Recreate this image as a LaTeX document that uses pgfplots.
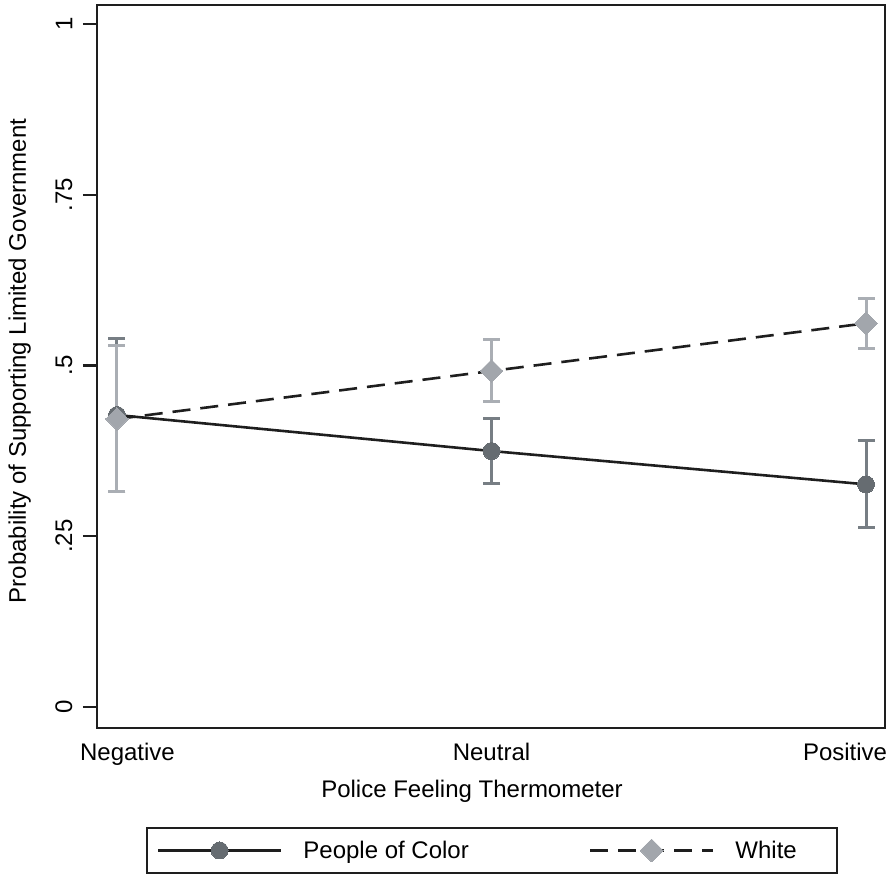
\documentclass[border=0pt]{standalone}
\usepackage{pgfplots}
\pgfplotsset{compat=1.18}
\usepackage{fontspec}
\setmainfont{Liberation Sans}
\definecolor{pocfill}{HTML}{666C71}
\definecolor{pocbar}{HTML}{777E84}
\definecolor{whfill}{HTML}{A2A6AC}
\definecolor{whbar}{HTML}{AAAEB4}
\definecolor{ink}{HTML}{1E1E1E}

% x = thermometer category (1 negative, 2 neutral, 3 positive)
\pgfplotstableread{
x est eplus eminus
1 0.4275 0.1115 0.1115
2 0.3748 0.0472 0.0473
3 0.3260 0.0640 0.0629
}\poc
\pgfplotstableread{
x est eplus eminus
1 0.4217 0.1073 0.1067
2 0.4920 0.0460 0.0454
3 0.5618 0.0356 0.0368
}\white

\begin{document}
\begin{tikzpicture}
\useasboundingbox (0pt,0pt) rectangle (894pt,875pt);
\begin{axis}[
  at={(97pt,147pt)}, anchor=south west,
  scale only axis, width=788pt, height=723pt,
  xmin=0.9466, xmax=3.0507, ymin=-0.0307, ymax=1.0278,
  axis line style={ink, line width=2.4pt},
  font=\fontsize{24}{28}\selectfont,
  xtick={1.028,2,2.944}, xticklabels={Negative,Neutral,Positive},
  x tick style={draw=none},
  ytick={0,0.25,0.5,0.75,1}, yticklabels={0,.25,.5,.75,1},
  ytick pos=left,
  y tick style={ink, line width=2.4pt},
  tick align=outside, major tick length=14pt,
  yticklabel style={rotate=90, anchor=south},
  yticklabel shift=7pt,
  xticklabel style={anchor=base, yshift=-18pt},
  xlabel={Police Feeling Thermometer},
  xlabel style={at={(axis description cs:0.4759,-0.0968)}, anchor=base},
  ylabel={Probability of Supporting Limited Government},
  ylabel style={at={(axis description cs:-0.0901,0.5076)}, anchor=base},
  legend style={at={(0.501,-0.1694)}, anchor=center, draw=ink, line width=1.5pt,
    font=\fontsize{24}{28}\selectfont, inner xsep=10pt, inner ysep=11pt,
    /tikz/every odd column/.append style={column sep=19pt},
    /tikz/every even column/.append style={column sep=118pt}},
  legend columns=2,
  legend image code/.code={\draw[#1, mark repeat=2, mark phase=2]
    plot coordinates {(0pt,0pt) (61.5pt,0pt) (123pt,0pt)};},
]
\addplot[forget plot, draw=none, mark=none,
  error bars/.cd, y dir=both, y explicit,
  error bar style={pocbar, line width=3pt},
  error mark options={pocbar, line width=3pt, mark size=8.5pt, rotate=90}]
  table[x=x, y=est, y error plus=eplus, y error minus=eminus] {\poc};
\addplot[forget plot, draw=none, mark=none,
  error bars/.cd, y dir=both, y explicit,
  error bar style={whbar, line width=3pt},
  error mark options={whbar, line width=3pt, mark size=8.5pt, rotate=90}]
  table[x=x, y=est, y error plus=eplus, y error minus=eminus] {\white};
\addplot[ink, line width=2.6pt, mark=*,
  mark options={fill=pocfill, draw=pocfill, line width=0pt, mark size=8.5pt}]
  table[x=x, y=est] {\poc};
\addlegendentry{People of Color}
\addplot[ink, line width=2.6pt, dash pattern=on 18pt off 10pt, mark=square*,
  mark options={solid, fill=whfill, draw=whfill, line width=0pt, rotate=45, mark size=8.1pt}]
  table[x=x, y=est] {\white};
\addlegendentry{White\hspace*{28pt}}
\end{axis}
\end{tikzpicture}
\end{document}
